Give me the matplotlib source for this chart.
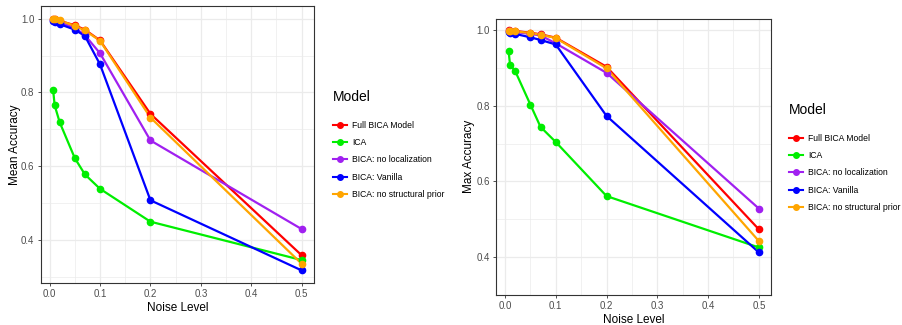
import matplotlib
matplotlib.use('Agg')
import matplotlib.pyplot as plt
from matplotlib.lines import Line2D

plt.rcParams['font.family'] = ['Liberation Sans', 'DejaVu Sans']

### Data
noise = [0.007, 0.01, 0.02, 0.05, 0.07, 0.1, 0.2, 0.5]
models = ['Full BICA Model', 'ICA', 'BICA: no localization', 'BICA: Vanilla', 'BICA: no structural prior']
colors = ['#FF0000', '#00EE00', '#A020F0', '#0000FF', '#FFA500']

mean_full = [1.0, 0.998, 0.994, 0.982, 0.970, 0.941, 0.742, 0.359]
mean_ica = [0.806, 0.765, 0.719, 0.622, 0.578, 0.539, 0.450, 0.346]
mean_noloc = [0.995, 0.993, 0.990, 0.975, 0.955, 0.906, 0.670, 0.430]
mean_vanilla = [0.994, 0.990, 0.985, 0.970, 0.953, 0.876, 0.508, 0.318]
mean_nostruct = [0.998, 0.998, 0.995, 0.980, 0.968, 0.940, 0.732, 0.336]

max_full = [1.0, 0.999, 0.998, 0.993, 0.989, 0.980, 0.903, 0.473]
max_ica = [0.946, 0.908, 0.892, 0.803, 0.744, 0.704, 0.561, 0.425]
max_noloc = [0.998, 0.997, 0.995, 0.990, 0.986, 0.965, 0.887, 0.528]
max_vanilla = [0.996, 0.993, 0.990, 0.981, 0.974, 0.962, 0.773, 0.412]
max_nostruct = [0.999, 0.998, 0.997, 0.992, 0.988, 0.979, 0.899, 0.442]

meanSeries = [mean_full, mean_ica, mean_noloc, mean_vanilla, mean_nostruct]
maxSeries = [max_full, max_ica, max_noloc, max_vanilla, max_nostruct]

fig = plt.figure(figsize=(9.03, 3.25), dpi=100)

def panel(rect, series, ylabel, legendPos, ylabelpad):
    ax = fig.add_axes(rect)
    for s, c in zip(series, colors):
        ax.plot(noise, s, color=c, linewidth=1.6, zorder=3)
    for s, c in zip(series, colors):
        ax.plot(noise, s, color=c, linestyle='none', marker='o', markersize=4.5, zorder=4)
    allVals = [v for s in series for v in s]
    lo, hi = min(allVals), max(allVals)
    pad = (hi - lo) * 0.05
    ax.set_ylim(lo - pad, hi + pad)
    xpad = (max(noise) - min(noise)) * 0.05
    ax.set_xlim(min(noise) - xpad, max(noise) + xpad)
    ax.set_xticks([0.0, 0.1, 0.2, 0.3, 0.4, 0.5])
    ax.set_xticks([0.05, 0.15, 0.25, 0.35, 0.45], minor=True)
    ax.set_yticks([0.4, 0.6, 0.8, 1.0])
    ax.set_yticks([0.3, 0.5, 0.7, 0.9], minor=True)
    ax.grid(which='major', color='#EBEBEB', linewidth=0.9, zorder=0)
    ax.grid(which='minor', color='#EBEBEB', linewidth=0.5, zorder=0)
    ax.set_axisbelow(True)
    ax.tick_params(which='major', length=2.5, width=0.6, color='#333333', labelsize=7, labelcolor='#4D4D4D', pad=2)
    ax.tick_params(which='minor', length=0)
    for sp in ax.spines.values():
        sp.set_color('#333333')
        sp.set_linewidth(0.8)
    ax.set_xlabel('Noise Level', fontsize=8.5, labelpad=2)
    ax.set_ylabel(ylabel, fontsize=8.5, labelpad=ylabelpad)
    handles = [Line2D([0], [0], color=c, linewidth=1.5, marker='o', markersize=4) for c in colors]
    leg = fig.legend(handles, models, loc='upper left', bbox_to_anchor=legendPos, frameon=False,
                     title='Model', fontsize=6.2, title_fontsize=10, handlelength=1.6,
                     handletextpad=0.6, labelspacing=0.95, alignment='left', borderpad=0)
    leg._legend_box.sep = 12
    return ax

panel([0.0451, 0.1292, 0.3027, 0.8523], meanSeries, 'Mean Accuracy', (0.364, 0.735), 0.3)
panel([0.5493, 0.0932, 0.3049, 0.8483], maxSeries, 'Max Accuracy', (0.869, 0.695), 0.8)

plt.savefig('out.png', dpi=100)
